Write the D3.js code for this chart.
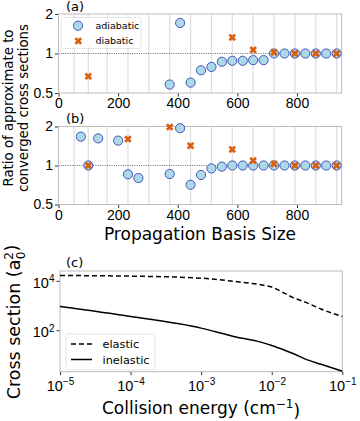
<!DOCTYPE html>
<html>
<head>
<meta charset="utf-8">
<script src="https://cdn.jsdelivr.net/npm/d3@7"></script>
<style>
  body { margin: 0; background: #fff; }
  svg { font-family: "DejaVu Sans", sans-serif; }
  .frame { fill: none; stroke: #bbb; stroke-width: 1; }
  .tick line { stroke: #333; }
</style>
</head>
<body>
<svg id="chart" width="360" height="421"></svg>
<script>
// panel (a)
var basisA = [373, 408, 443, 478, 513, 548, 583, 618, 653, 688, 723, 758, 793, 828, 863, 898, 933];
var adiabaticA = [0.58, 1.71, 0.60, 0.745, 0.79, 0.865, 0.88, 0.88, 0.89, 0.89, 1, 1, 1, 1, 1, 1, 1];
var diabaticBasisA = [100, 583, 653, 723, 793, 863, 933];
var diabaticA = [0.67, 1.325, 1.065, 1.02, 1, 1, 1];

// panel (b)
var basisB = [75, 100, 133, 200, 233, 268, 373, 408, 443, 478, 513, 548, 583, 618, 653, 688, 723, 758, 793, 828, 863, 898, 933];
var adiabaticB = [1.67, 1.0, 1.62, 1.556, 0.855, 0.80, 0.86, 1.94, 0.71, 0.845, 0.95, 0.98, 1, 1, 1, 1, 1, 1, 1, 1, 1, 1, 1];
var diabaticBasisB = [100, 233, 373, 443, 583, 653, 723, 793, 863, 933];
var diabaticB = [1.0, 1.60, 1.98, 1.42, 1.33, 1.09, 1.03, 1, 1, 1];

// light vertical guide lines behind (a) and (b)
var gridBasis = [52, 100, 163, 233, 303, 373, 443, 513, 583, 653, 723, 793, 863, 933];
var basisTicks = [0, 200, 400, 600, 800];
var ratioTicks = [0.5, 1, 2];

// panel (c)
var energy = [1e-5, 1e-4, 1e-3, 3e-3, 7e-3, 1e-2, 1.5e-2, 2e-2, 3e-2, 5e-2, 1e-1];
var elastic = [1.64e4, 1.55e4, 1.28e4, 9.4e3, 6.9e3, 5.6e3, 3.2e3, 2.1e3, 1.37e3, 7.2e2, 3.6e2];
var inelastic = [910, 360, 122, 55, 33, 24, 15.8, 11.5, 6.8, 4.2, 2.2];
var energyTicks = [1e-5, 1e-4, 1e-3, 1e-2, 1e-1];
var sectionTicks = [1e2, 1e4];

var BLUE_FILL = "#add8e6", BLUE_EDGE = "#4355c0", ORANGE = "#d95f0e";

var svg = d3.select("#chart");

var x = d3.scaleLinear().domain([0, 950]).range([58.5, 341.7]);

function drawRatioPanel(top, bottom, label, bx, ay, dbx, dy) {
    var y = d3.scaleLog().base(2).domain([0.5, 2]).range([bottom, top]);
    var g = svg.append("g");

    g.selectAll(".vgrid")
      .data(gridBasis)
      .enter()
      .append("line")
      .attr("x1", function(d) { return x(d); })
      .attr("x2", function(d) { return x(d); })
      .attr("y1", top)
      .attr("y2", bottom)
      .style("stroke", "#ddd")
      .style("stroke-width", 1.2);

    g.append("line")
      .attr("x1", x.range()[0])
      .attr("x2", x.range()[1])
      .attr("y1", y(1))
      .attr("y2", y(1))
      .style("stroke", "#444")
      .style("stroke-width", 0.8)
      .style("stroke-dasharray", "1,1.3");

    g.append("g")
      .attr("transform", "translate(0 " + bottom + ")")
      .call(d3.axisBottom(x).tickValues(basisTicks).tickSize(3.5).tickPadding(2))
      .call(function(a) { a.select(".domain").remove(); })
      .selectAll("text")
      .style("font-size", "14px")
      .style("fill", "#000");

    g.append("g")
      .attr("transform", "translate(" + x.range()[0] + " 0)")
      .call(d3.axisLeft(y).tickValues(ratioTicks).tickFormat(function(d) { return d; }).tickSize(3.5).tickPadding(2))
      .call(function(a) { a.select(".domain").remove(); })
      .selectAll("text")
      .style("font-size", "14px")
      .style("fill", "#000");

    g.append("rect")
      .attr("class", "frame")
      .attr("x", x.range()[0])
      .attr("y", top)
      .attr("width", x.range()[1] - x.range()[0])
      .attr("height", bottom - top);

    g.selectAll(".adia")
      .data(bx)
      .enter()
      .append("circle")
      .attr("cx", function(d) { return x(d); })
      .attr("cy", function(d, i) { return y(ay[i]); })
      .attr("r", 4.6)
      .style("fill", BLUE_FILL)
      .style("stroke", BLUE_EDGE)
      .style("stroke-width", 1);

    g.selectAll(".dia")
      .data(dbx)
      .enter()
      .append("path")
      .attr("d", d3.symbol(d3.symbolCross, 36))
      .attr("transform", function(d, i) {
          return "translate(" + x(d) + " " + y(dy[i]) + ") rotate(45)";
      })
      .style("fill", ORANGE);

    g.append("text")
      .attr("x", 66)
      .attr("y", top - 3.5)
      .style("font-size", "13px")
      .text(label);

    return g;
}

var ga = drawRatioPanel(14, 93, "(a)", basisA, adiabaticA, diabaticBasisA, diabaticA);
drawRatioPanel(126.5, 204.5, "(b)", basisB, adiabaticB, diabaticBasisB, diabaticB);

// legend (a)
var legA = ga.append("g");
legA.append("rect")
  .attr("x", 61).attr("y", 17.5).attr("width", 80).attr("height", 31).attr("rx", 2.5)
  .style("fill", "#fff").style("fill-opacity", 0.85)
  .style("stroke", "#ddd").style("stroke-width", 0.8);
legA.append("circle")
  .attr("cx", 78).attr("cy", 25.7).attr("r", 4.6)
  .style("fill", BLUE_FILL).style("stroke", BLUE_EDGE).style("stroke-width", 1);
legA.append("path")
  .attr("d", d3.symbol(d3.symbolCross, 36))
  .attr("transform", "translate(78.3 41) rotate(45)")
  .style("fill", ORANGE);
legA.append("text").attr("x", 95.5).attr("y", 29.2).style("font-size", "9.5px").text("adiabatic");
legA.append("text").attr("x", 95.5).attr("y", 44.4).style("font-size", "9.5px").text("diabatic");

// shared y label of (a),(b)
var ylab = svg.append("text")
  .attr("transform", "translate(13 108) rotate(-90)")
  .style("text-anchor", "middle")
  .style("font-size", "13.3px");
ylab.append("tspan").attr("x", 0).attr("y", 0).text("Ratio of approximate to");
ylab.append("tspan").attr("x", 0).attr("y", 14.5).text("converged cross sections");

svg.append("text")
  .attr("x", 200)
  .attr("y", 240)
  .style("text-anchor", "middle")
  .style("font-size", "17px")
  .text("Propagation Basis Size");

// panel (c)
var cx = d3.scaleLog().domain([1e-5, 1e-1]).range([60, 342.3]);
var cy = d3.scaleLog().domain([2.1, 2.5e4]).range([371.7, 271]);
var gc = svg.append("g");

function powerLabel(a) {
    a.selectAll(".tick text")
      .text(null)
      .style("font-size", "14.5px")
      .style("fill", "#000")
      .each(function(d) {
          var t = d3.select(this);
          var p = Math.round(Math.log10(d));
          t.append("tspan").text("10");
          t.append("tspan")
            .attr("dy", "-0.55em")
            .style("font-size", "10px")
            .text(p < 0 ? "\u2212" + (-p) : p);
      });
}

gc.append("g")
  .attr("transform", "translate(0 371.7)")
  .call(d3.axisBottom(cx).tickValues(energyTicks).tickSize(3.5).tickPadding(2))
  .call(function(a) { a.select(".domain").remove(); })
  .call(function(a) { powerLabel(a); a.selectAll(".tick text").attr("dy", "0.95em"); });

gc.append("g")
  .attr("transform", "translate(60 0)")
  .call(d3.axisLeft(cy).tickValues(sectionTicks).tickSize(3.5).tickPadding(2))
  .call(function(a) { a.select(".domain").remove(); })
  .call(function(a) { powerLabel(a); a.selectAll(".tick text").attr("dy", "0.45em"); });

gc.append("rect")
  .attr("class", "frame")
  .attr("x", 60).attr("y", 271)
  .attr("width", 282.3).attr("height", 100.7);

var line = d3.line()
  .x(function(d, i) { return cx(energy[i]); })
  .y(function(d) { return cy(d); })
  .curve(d3.curveMonotoneX);

gc.append("path")
  .attr("d", line(elastic))
  .style("fill", "none")
  .style("stroke", "#000")
  .style("stroke-width", 1.5)
  .style("stroke-dasharray", "5,3");

gc.append("path")
  .attr("d", line(inelastic))
  .style("fill", "none")
  .style("stroke", "#000")
  .style("stroke-width", 1.5);

gc.append("text")
  .attr("x", 66)
  .attr("y", 267)
  .style("font-size", "13px")
  .text("(c)");

// legend (c)
var legC = gc.append("g");
legC.append("rect")
  .attr("x", 66).attr("y", 334).attr("width", 89).attr("height", 36).attr("rx", 2.5)
  .style("fill", "#fff").style("fill-opacity", 0.85)
  .style("stroke", "#ddd").style("stroke-width", 0.8);
legC.append("line")
  .attr("x1", 71).attr("x2", 92).attr("y1", 344).attr("y2", 344)
  .style("stroke", "#000").style("stroke-width", 1.5).style("stroke-dasharray", "5,3");
legC.append("line")
  .attr("x1", 71).attr("x2", 92).attr("y1", 359.5).attr("y2", 359.5)
  .style("stroke", "#000").style("stroke-width", 1.5);
legC.append("text").attr("x", 102.5).attr("y", 347.5).style("font-size", "11.3px").text("elastic");
legC.append("text").attr("x", 102.5).attr("y", 363.5).style("font-size", "11.3px").text("inelastic");

var clab = svg.append("text")
  .attr("transform", "translate(20 322) rotate(-90)")
  .style("text-anchor", "middle")
  .style("font-size", "17.5px");
clab.append("tspan").text("Cross section (a");
clab.append("tspan").attr("dy", "-0.55em").style("font-size", "12px").text("2");
clab.append("tspan").attr("dx", "-0.6em").attr("dy", "0.95em").style("font-size", "12px").text("0");
clab.append("tspan").attr("dy", "-0.4em").text(")");

var xlab = svg.append("text")
  .attr("x", 201)
  .attr("y", 414)
  .style("text-anchor", "middle")
  .style("font-size", "17px");
xlab.append("tspan").text("Collision energy (cm");
xlab.append("tspan").attr("dy", "-0.5em").style("font-size", "12px").text("\u22121");
xlab.append("tspan").attr("dy", "0.5em").text(")");
</script>
</body>
</html>
